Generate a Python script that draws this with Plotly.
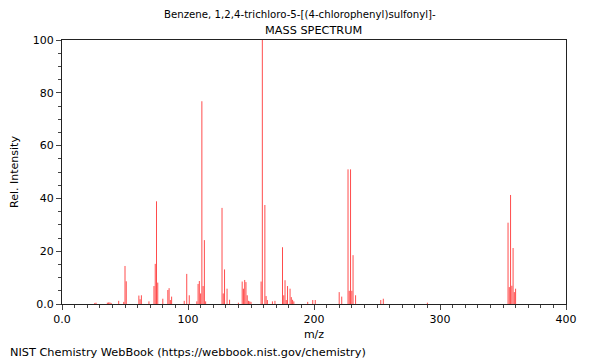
import plotly.graph_objects as go

title_line1 = "Benzene, 1,2,4-trichloro-5-[(4-chlorophenyl)sulfonyl]-"
title_line2 = "MASS SPECTRUM"
footer = "NIST Chemistry WebBook (https://webbook.nist.gov/chemistry)"

mz = [26, 27, 36, 37, 38, 39, 45, 49, 50, 51, 61, 62, 63, 69, 73, 74, 75, 76, 80,
      84, 85, 86, 87, 97, 99, 101, 107, 108, 109, 110, 111, 112, 113, 114,
      127, 128, 129, 131, 133, 140, 143, 144, 145, 146, 147, 148, 149, 150,
      158, 159, 161, 162, 163, 167, 169, 175, 176, 177, 178, 179, 181, 182, 183, 184,
      195, 199, 201, 220, 222, 227, 228, 229, 230, 231, 233, 253, 255, 290,
      354, 355, 356, 357, 358, 359, 360]
intensity = [0.4, 0.5, 0.5, 0.6, 0.6, 0.4, 1.2, 0.8, 14.4, 8.6, 3.2, 1.8, 3.3, 1.0, 6.8, 15.2, 38.9, 8.1, 2.0,
             5.3, 6.0, 1.5, 2.8, 1.2, 11.4, 3.3, 1.0, 7.6, 8.7, 4.0, 76.8, 6.8, 24.2, 1.0,
             36.4, 4.0, 13.1, 5.8, 1.6, 0.5, 8.5, 5.8, 9.1, 8.3, 3.3, 1.2, 1.0, 0.8,
             8.5, 100.0, 37.5, 3.0, 1.5, 1.0, 1.2, 21.5, 3.3, 9.0, 1.5, 6.8, 5.8, 2.6, 1.6, 1.0,
             0.8, 1.5, 1.5, 4.5, 2.8, 51.0, 5.0, 51.0, 5.0, 18.5, 3.3, 1.5, 2.0, 0.5,
             30.8, 6.4, 41.3, 6.9, 21.2, 4.5, 5.8]

x_tickvals = [0, 100, 200, 300, 400]
x_ticktext = ["0.0", "100", "200", "300", "400"]
y_tickvals = [0, 20, 40, 60, 80, 100]
y_ticktext = ["0.0", "20", "40", "60", "80", "100"]

xs, ys = [], []
for m, v in zip(mz, intensity):
    xs += [m, m, None]
    ys += [0, v, None]

fig = go.Figure()
fig.add_trace(go.Scatter(x=xs, y=ys, mode="lines",
                         line=dict(color="rgba(255,0,0,0.7)", width=1),
                         hoverinfo="skip", showlegend=False))

font = dict(family="DejaVu Sans", size=11, color="black")
axis_common = dict(showline=True, linecolor="#222", linewidth=1, mirror=True,
                   showgrid=False, zeroline=False, ticks="outside", ticklen=5,
                   tickcolor="#444", tickfont=font, automargin=False)
fig.update_xaxes(range=[0, 400], tickvals=x_tickvals, ticktext=x_ticktext,
                 minor=dict(dtick=10, ticks="outside", ticklen=3, tickcolor="#444"),
                 title=dict(text="m/z", font=font, standoff=5), **axis_common)
fig.update_yaxes(range=[0, 100], tickvals=y_tickvals, ticktext=y_ticktext,
                 minor=dict(dtick=5, ticks="outside", ticklen=3, tickcolor="#444"),
                 title=dict(text="Rel. Intensity", font=font, standoff=15), **axis_common)

# the page body adds an 8px offset, so the figure is sized/positioned to compensate
OFF = 8
W, H = 600 - OFF, 360 - OFF
L, R, T, B = 62 - OFF, 34, 40 - OFF, 56
fig.update_layout(
    width=W, height=H,
    margin=dict(l=L, r=R, t=T, b=B, autoexpand=False),
    plot_bgcolor="white", paper_bgcolor="white",
    font=font,
)
ph = H - T - B
pw = W - L - R
def py(pix):
    return (H - B - (pix - OFF)) / ph
def px(pix):
    return ((pix - OFF) - L) / pw
fig.update_layout(annotations=[
    dict(text=title_line1, x=px(300), y=py(14), xref="paper", yref="paper",
         xanchor="center", yanchor="middle", showarrow=False,
         font=dict(family="DejaVu Sans", size=10.2, color="black")),
    dict(text=title_line2, x=px(313), y=py(30), xref="paper", yref="paper",
         xanchor="center", yanchor="middle", showarrow=False,
         font=dict(family="DejaVu Sans", size=11.3, color="black")),
    dict(text=footer, x=px(OFF), y=py(352), xref="paper", yref="paper",
         xanchor="left", yanchor="middle", showarrow=False,
         font=dict(family="DejaVu Sans", size=11.3, color="black")),
])

fig.write_html("out.html")
